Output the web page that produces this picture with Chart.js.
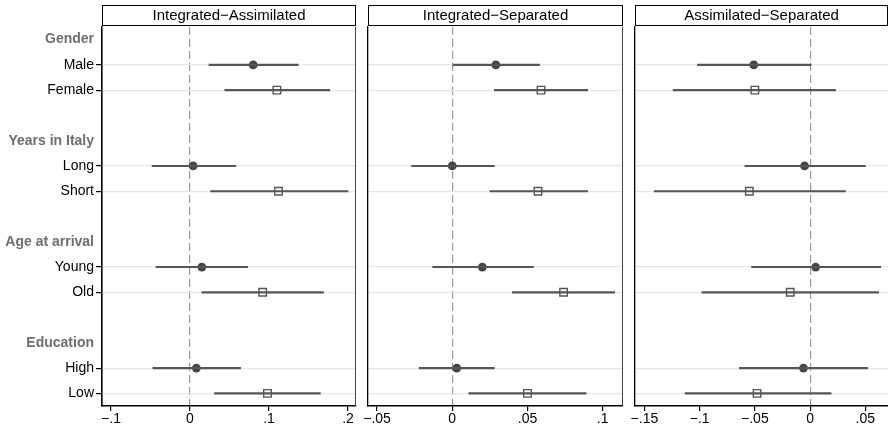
<!DOCTYPE html>
<html>
<head>
<meta charset="utf-8">
<script src="https://cdn.jsdelivr.net/npm/chart.js@4/dist/chart.umd.min.js"></script>
<style>
  body { margin: 0; background: #fff; }
  #wrap { position: relative; width: 888px; height: 431px; }
  #wrap canvas { position: absolute; left: 0; top: 0; }
</style>
</head>
<body>
<div id="wrap">
  <canvas id="panel0" width="888" height="431"></canvas>
  <canvas id="panel1" width="888" height="431"></canvas>
  <canvas id="panel2" width="888" height="431"></canvas>
</div>
<script>
'use strict';

// rows from top to bottom; blank rows are spacers between groups
const rowLabels = ['Gender', 'Male', 'Female', '', 'Years in Italy', 'Long', 'Short', '',
	'Age at arrival', 'Young', 'Old', '', 'Education', 'High', 'Low'];
const headerRows = [0, 4, 8, 12];
// Male, Female, Long, Short, Young, Old, High, Low
const dataRows = [1, 2, 5, 6, 9, 10, 13, 14];
const circleRows = [1, 5, 9, 13];

const panelTitles = ['Integrated\u2212Assimilated', 'Integrated\u2212Separated', 'Assimilated\u2212Separated'];

// estimates and 95% intervals, same order as dataRows
const intAssEst = [0.080, 0.110, 0.004, 0.112, 0.015, 0.092, 0.008, 0.098];
const intAssLo = [0.024, 0.044, -0.048, 0.026, -0.043, 0.015, -0.047, 0.031];
const intAssHi = [0.137, 0.177, 0.058, 0.200, 0.073, 0.169, 0.064, 0.165];

const intSepEst = [0.029, 0.059, 0.000, 0.057, 0.020, 0.074, 0.003, 0.050];
const intSepLo = [0.000, 0.028, -0.027, 0.025, -0.013, 0.040, -0.022, 0.011];
const intSepHi = [0.058, 0.090, 0.028, 0.090, 0.054, 0.108, 0.028, 0.089];

const assSepEst = [-0.051, -0.050, -0.005, -0.055, 0.005, -0.018, -0.006, -0.048];
const assSepLo = [-0.102, -0.124, -0.059, -0.141, -0.053, -0.098, -0.064, -0.113];
const assSepHi = [0.001, 0.023, 0.050, 0.032, 0.064, 0.062, 0.052, 0.019];

// x axis ticks per panel
const intAssTicks = [-0.1, 0, 0.1, 0.2];
const intAssTickText = ['\u2212.1', '0', '.1', '.2'];
const intSepTicks = [-0.05, 0, 0.05, 0.1];
const intSepTickText = ['\u2212.05', '0', '.05', '.1'];
const assSepTicks = [-0.15, -0.1, -0.05, 0, 0.05];
const assSepTickText = ['\u2212.15', '\u2212.1', '\u2212.05', '0', '.05'];

const FONT = '"Liberation Sans", Arial, Helvetica, sans-serif';

const panels = [
	{ est: intAssEst, lo: intAssLo, hi: intAssHi, ticks: intAssTicks, text: intAssTickText,
		min: -0.1114, max: 0.2101, pad: { left: 0, right: 532 } },
	{ est: intSepEst, lo: intSepLo, hi: intSepHi, ticks: intSepTicks, text: intSepTickText,
		min: -0.056, max: 0.1135, pad: { left: 368, right: 265 } },
	{ est: assSepEst, lo: assSepLo, hi: assSepHi, ticks: assSepTicks, text: assSepTickText,
		min: -0.1585, max: 0.0705, pad: { left: 635, right: 0 } },
];

const stripPlugin = {
	id: 'strip',
	afterDraw(chart, args, opts) {
		const { ctx, chartArea: a } = chart;
		ctx.save();
		ctx.fillStyle = '#fff';
		ctx.fillRect(a.left, 5, a.right - a.left, 20);
		ctx.strokeStyle = '#000';
		ctx.lineWidth = 1;
		ctx.strokeRect(a.left + 0.5, 5.5, a.right - a.left - 1, 20);
		ctx.fillStyle = '#000';
		ctx.font = '15px ' + FONT;
		ctx.textAlign = 'center';
		ctx.textBaseline = 'middle';
		ctx.fillText(opts.text, (a.left + a.right) / 2, 16);
		// thin outline on the right of the plot region (not on the last panel)
		if (opts.rightLine) {
			ctx.strokeStyle = '#444';
			ctx.beginPath();
			ctx.moveTo(a.right - 0.5, a.top);
			ctx.lineTo(a.right - 0.5, a.bottom);
			ctx.stroke();
		}
		ctx.restore();
	},
};

const createPanel = function (p, i) {
	const first = i === 0;
	const ciData = dataRows.map((r, k) => ({ x: [p.lo[k], p.hi[k]], y: r }));
	const circleData = [];
	const squareData = [];
	dataRows.forEach((r, k) => {
		const pt = { x: p.est[k], y: r };
		if (circleRows.includes(r)) circleData.push(pt);
		else squareData.push(pt);
	});

	new Chart(document.getElementById('panel' + i), {
		type: 'bar',
		data: {
			datasets: [
				{
					type: 'bar',
					indexAxis: 'y',
					data: ciData,
					backgroundColor: '#555',
					barThickness: 1.5,
				},
				{
					type: 'scatter',
					data: circleData,
					pointStyle: 'circle',
					pointRadius: 4.4,
					backgroundColor: '#444',
					borderColor: '#444',
					borderWidth: 0,
				},
				{
					type: 'scatter',
					data: squareData,
					pointStyle: 'rect',
					pointRadius: 5.3,
					backgroundColor: '#fff',
					borderColor: '#555',
					borderWidth: 1.4,
				},
			],
		},
		options: {
			responsive: false,
			animation: false,
			devicePixelRatio: 1,
			layout: {
				autoPadding: false,
				padding: { left: p.pad.left, right: p.pad.right, top: 27, bottom: 0 },
			},
			plugins: {
				legend: { display: false },
				tooltip: { enabled: false },
				strip: { text: panelTitles[i], rightLine: i < panels.length - 1 },
			},
			scales: {
				x: {
					type: 'linear',
					position: 'bottom',
					offset: false,
					min: p.min,
					max: p.max,
					afterBuildTicks: (s) => {
						s.ticks = p.ticks.map((v) => ({ value: v }));
					},
					afterFit: (s) => {
						s.height = 25;
						s.paddingLeft = 0;
						s.paddingRight = 0;
					},
					grid: {
						offset: false,
						color: (c) => (c.tick && c.tick.value === 0 ? '#9a9a9a' : 'rgba(0,0,0,0)'),
						lineWidth: 1.2,
						tickColor: '#000',
						tickLength: 5,
						tickWidth: 1.2,
					},
					border: { color: '#000', width: 1.5, dash: [8, 4] },
					ticks: {
						color: '#000',
						font: { family: FONT, size: 14 },
						padding: 0,
						maxRotation: 0,
						autoSkip: false,
						callback: (v, k) => p.text[k],
					},
				},
				y: {
					type: 'linear',
					reverse: true,
					offset: false,
					min: -0.5,
					max: 14.5,
					afterBuildTicks: (s) => {
						s.ticks = rowLabels.map((_, k) => ({ value: k }));
					},
					afterFit: (s) => {
						s.width = first ? 102 : 0;
					},
					grid: {
						offset: false,
						color: (c) => (c.tick && dataRows.includes(c.tick.value) ? '#e6e6e6' : 'rgba(0,0,0,0)'),
						lineWidth: 1.2,
						drawTicks: first,
						tickLength: 6,
						tickWidth: 1.2,
						tickColor: (c) => (c.tick && dataRows.includes(c.tick.value) ? '#000' : 'rgba(0,0,0,0)'),
					},
					border: { color: '#000', width: first ? 1.6 : 1.3 },
					ticks: {
						display: first,
						padding: 2,
						autoSkip: false,
						color: (c) => (c.tick && headerRows.includes(c.tick.value) ? '#6e6e6e' : '#000'),
						font: (c) => ({
							family: FONT,
							size: 14,
							weight: c.tick && headerRows.includes(c.tick.value) ? 'bold' : 'normal',
						}),
						callback: (v) => rowLabels[v],
					},
				},
			},
		},
		plugins: [stripPlugin],
	});
};

panels.forEach(createPanel);
</script>
</body>
</html>
